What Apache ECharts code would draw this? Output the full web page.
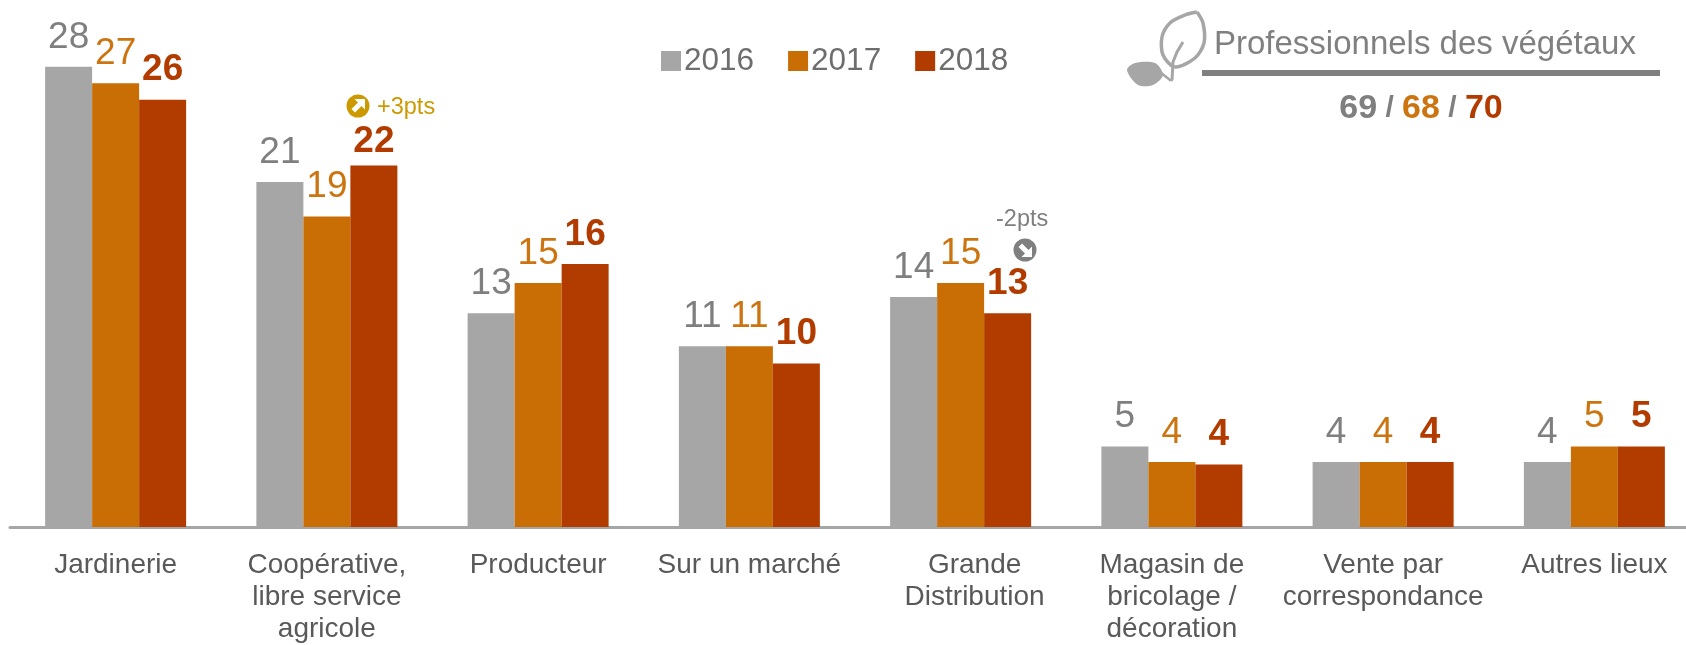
<!DOCTYPE html>
<html><head><meta charset="utf-8">
<style>html,body{margin:0;padding:0;background:#fff}#c{width:1686px;height:645px}</style>
<script src="https://cdn.jsdelivr.net/npm/echarts@6/dist/echarts.min.js"></script>
</head><body><div id="c"></div>
<script>
const categories = ['Jardinerie','Coopérative,\nlibre service\nagricole','Producteur','Sur un marché','Grande\nDistribution','Magasin de\nbricolage /\ndécoration','Vente par\ncorrespondance','Autres lieux'];
const v2016 = [28,21,13,11,14,4.9,3.95,3.95];
const v2017 = [27,18.9,14.85,11,14.85,3.95,3.95,4.9];
const v2018 = [26,22,16,9.95,13,3.8,3.95,4.9];
const GREY='#A6A6A6', ORANGE='#C96E05', RED='#B23C00';
const LGREY='#7F7F7F', LORANGE='#CC7510', FONT='"Liberation Sans",Arial,sans-serif';
const chart = echarts.init(document.getElementById('c'),null,{renderer:'canvas'});
function s(name,data,color,lc,bold){return {name,type:'bar',data,barWidth:47,barGap:'0%',itemStyle:{color},
  label:{show:true,position:'top',distance:11,fontFamily:FONT,fontSize:37,color:lc,fontWeight:bold?'bold':'normal',formatter:p=>Math.round(p.value)}};}
function badge(cx,cy,color,rot){return {type:'group',x:cx,y:cy,rotation:rot,children:[
  {type:'circle',shape:{cx:0,cy:0,r:11.5},style:{fill:color}},
  {type:'polygon',shape:{points:[[7,-7],[7,3.5],[3.5,0],[-3,6.5],[-6.5,3],[0,-3.5],[-3.5,-7]]},style:{fill:'#fff'}}]};}
const d2018 = v2018.map((v,i)=> i===1 ? {value:v,label:{offset:[0,6]}} : v);
chart.setOption({
  animation:false,
  backgroundColor:'#fff',
  grid:{left:10,top:34,width:1690,height:493,containLabel:false,outerBoundsMode:'none'},
  legend:{left:656,top:40,icon:'rect',itemWidth:20,itemHeight:20,itemGap:34,selectedMode:false,
    textStyle:{fontFamily:FONT,fontSize:31.5,color:'#6E6E6E',padding:[0,0,0,-2]}},
  xAxis:{type:'category',data:categories.map((c,i)=>i===4?{value:c,textStyle:{padding:[0,0,0,28]}}:c),
    axisTick:{show:false},
    axisLine:{lineStyle:{color:GREY,width:3}},
    axisLabel:{interval:0,margin:22,fontFamily:FONT,fontSize:28,lineHeight:32,color:'#595959'}},
  yAxis:{type:'value',min:0,max:30,show:false,splitLine:{show:false}},
  series:[s('2016',v2016,GREY,LGREY,false),s('2017',v2017,ORANGE,LORANGE,false),s('2018',d2018,RED,RED,true)],
  graphic:[
    {type:'polyline',shape:{smooth:0.3,points:[[1197,12],[1203,23],[1204,43],[1195,58],[1175,67],[1163,55],[1162,37],[1170,23],[1185,15],[1197,12]]},style:{fill:'none',stroke:GREY,lineWidth:3.5}},
    {type:'polyline',shape:{points:[[1172,80],[1173,62],[1177,52],[1183,42]]},style:{fill:'none',stroke:GREY,lineWidth:3}},
    {type:'polygon',shape:{smooth:0.3,points:[[1127,70],[1135,63],[1155,63],[1163,75],[1153,85],[1138,85]]},style:{fill:GREY}},
    {type:'polyline',shape:{points:[[1160,72],[1170,80],[1173,80]]},style:{fill:'none',stroke:GREY,lineWidth:2.5}},
    {type:'text',x:1214,y:45,style:{text:'Professionnels des végétaux',font:'33px '+FONT,fill:'#808080',textAlign:'left',textVerticalAlign:'middle'}},
    {type:'rect',shape:{x:1202,y:70,width:458,height:6},style:{fill:'#808080'}},
    {type:'text',x:1421,y:109,style:{rich:{a:{font:'bold 34px '+FONT,fill:LGREY},b:{font:'bold 34px '+FONT,fill:LORANGE},c:{font:'bold 34px '+FONT,fill:RED},s:{font:'bold 30px '+FONT,fill:LGREY}},text:'{a|69}{s| / }{b|68}{s| / }{c|70}',textAlign:'center',textVerticalAlign:'middle'}},
    badge(358,106,'#CC9A00',0),
    {type:'text',x:377,y:108,style:{text:'+3pts',font:'23.5px '+FONT,fill:'#CC9A00',textVerticalAlign:'middle'}},
    badge(1025,250,'#7F7F7F',-Math.PI/2),
    {type:'text',x:996,y:220,style:{text:'-2pts',font:'23.5px '+FONT,fill:'#7F7F7F',textVerticalAlign:'middle'}}
  ]
});
</script></body></html>
